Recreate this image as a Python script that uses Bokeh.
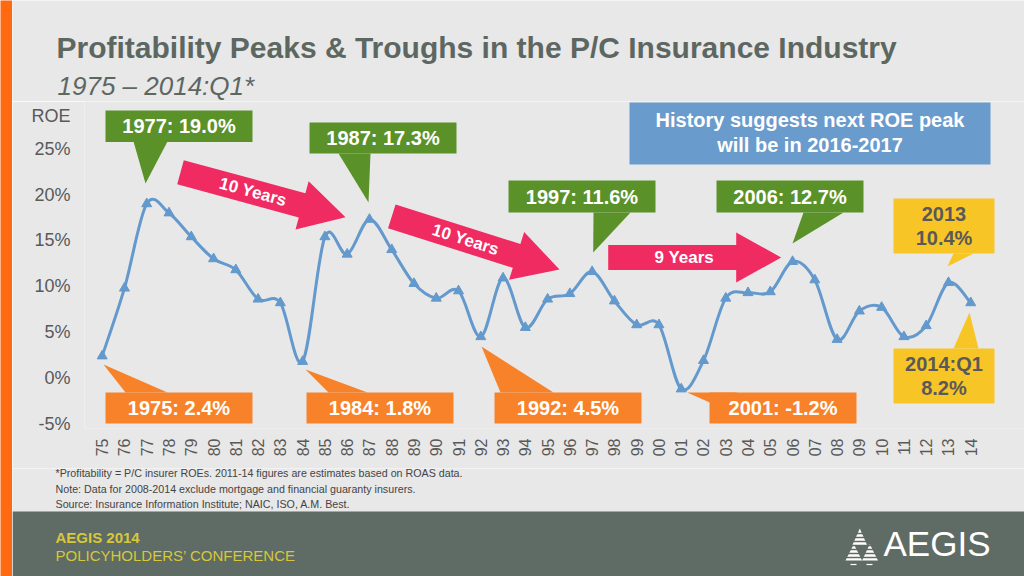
import math
from bokeh.plotting import figure
from bokeh.layouts import row, column
from bokeh.models import Range1d, FixedTicker
from bokeh.core.properties import value
from bokeh.embed import file_html
from bokeh.resources import INLINE

# ---------------- data ----------------
years = [1975, 1976, 1977, 1978, 1979, 1980, 1981, 1982, 1983, 1984,
         1985, 1986, 1987, 1988, 1989, 1990, 1991, 1992, 1993, 1994,
         1995, 1996, 1997, 1998, 1999, 2000, 2001, 2002, 2003, 2004,
         2005, 2006, 2007, 2008, 2009, 2010, 2011, 2012, 2013, 2014]
roe = [2.4, 9.8, 19.0, 18.0, 15.4, 13.0, 11.8, 8.6, 8.2, 1.8,
       15.4, 13.5, 17.3, 14.0, 10.3, 8.7, 9.5, 4.5, 10.9, 5.5,
       8.6, 9.2, 11.6, 8.4, 5.8, 5.8, -1.2, 1.9, 8.7, 9.3,
       9.4, 12.7, 10.7, 4.2, 7.3, 7.7, 4.5, 5.7, 10.4, 8.2]
year_labels = ["75", "76", "77", "78", "79", "80", "81", "82", "83", "84",
               "85", "86", "87", "88", "89", "90", "91", "92", "93", "94",
               "95", "96", "97", "98", "99", "00", "01", "02", "03", "04",
               "05", "06", "07", "08", "09", "10", "11", "12", "13", "14"]
y_ticks = [-5, 0, 5, 10, 15, 20, 25]
y_tick_labels = ["-5%", "0%", "5%", "10%", "15%", "20%", "25%"]
y_title_tick = 28.6
y_title = "ROE"

peak_labels = ["1977: 19.0%", "1987: 17.3%", "1997: 11.6%", "2006: 12.7%"]
trough_labels = ["1975: 2.4%", "1984: 1.8%", "1992: 4.5%", "2001: -1.2%"]
cycle_labels = ["10 Years", "10 Years", "9 Years"]
recent_labels = ["2013\n10.4%", "2014:Q1\n8.2%"]
note_text = "History suggests next ROE peak\nwill be in 2016-2017"

title_text = "Profitability Peaks & Troughs in the P/C Insurance Industry"
subtitle_text = "1975 \u2013 2014:Q1*"
footnotes = ["*Profitability =  P/C insurer ROEs. 2011-14 figures are estimates based on ROAS data.",
             "Note: Data for 2008-2014 exclude mortgage and financial guaranty insurers.",
             "Source: Insurance Information Institute; NAIC, ISO, A.M. Best."]

# ---------------- style ----------------
FONT = "Liberation Sans"
BG = "#E8E8E8"
ORANGE_BAR = "#FF6A10"
TITLE_C = "#5D6762"
AXIS_C = "#595959"
LINE_C = "#6399CC"
GREEN = "#5B9129"
ORANGE = "#F7822A"
PINK = "#F02B62"
YELLOW = "#F8C527"
BLUE = "#6A9BCD"
FOOT_BG = "#5F6B65"
FOOT_Y = "#D6C83A"

# reference-pixel -> data conversion for the chart panel
X0_PX, X_PER = 101.7, 22.27   # px of 1975 tick, px per year
Y0_PX, Y_PER = 377.5, 9.167   # px of 0 %, px per percentage point


def X(px):
    return 1975 + (px - X0_PX) / X_PER


def Y(py):
    return (Y0_PX - py) / Y_PER


def ident(v):
    return v


def shape(p, pts, color, fx=X, fy=Y):
    p.patch([fx(a) for a, b in pts], [fy(b) for a, b in pts],
            fill_color=color, line_color=None)


def box(p, l, t, r, b, color, fx=X, fy=Y):
    shape(p, [(l, t), (r, t), (r, b), (l, b)], color, fx, fy)


def txt(p, px, py, s, size, color, bold=True, italic=False, angle=0.0,
        align="center", font=FONT, fx=X, fy=Y, lh=1.2):
    style = "bold" if bold else "normal"
    if italic:
        style = "bold italic" if bold else "italic"
    p.text(x=[fx(px)], y=[fy(py)], text=[s], text_font=value(font),
           text_font_size=f"{size}px", text_font_style=style,
           text_color=color, text_align=align, text_baseline="middle",
           angle=angle, text_line_height=lh)


def arrow(p, tail, tip, label, sw=12.5, hw=25.0, hl=45.0):
    tx, ty = tail
    px, py = tip
    L = math.hypot(px - tx, py - ty)
    ux, uy = (px - tx) / L, (py - ty) / L
    nx, ny = -uy, ux
    bx, by = px - ux * hl, py - uy * hl
    pts = [(tx + nx * sw, ty + ny * sw), (bx + nx * sw, by + ny * sw),
           (bx + nx * hw, by + ny * hw), (px, py),
           (bx - nx * hw, by - ny * hw), (bx - nx * sw, by - ny * sw),
           (tx - nx * sw, ty - ny * sw)]
    shape(p, pts, PINK)
    mx, my = tx + (px - tx) * 0.44, ty + (py - ty) * 0.44
    ang = -math.atan2(py - ty, px - tx)
    txt(p, mx, my, label, 17, "white", angle=ang)


def plain(width, height, xr, yr, fill):
    f = figure(width=width, height=height, x_range=xr, y_range=yr,
               x_axis_type=None, y_axis_type=None, output_backend="svg",
               toolbar_location=None, min_border=0, frame_align=False,
               background_fill_color=fill, border_fill_color=fill,
               outline_line_color=None)
    f.xgrid.grid_line_color = None
    f.ygrid.grid_line_color = None
    return f


# ---------------- left orange bar ----------------
bar = plain(12, 576, Range1d(0, 1), Range1d(0, 1), ORANGE_BAR)

# ---------------- header ----------------
HEAD_B = 101
header = plain(1012, HEAD_B, Range1d(12, 1024), Range1d(HEAD_B, 0), BG)
txt(header, 56, 47, title_text, 30, TITLE_C, align="left", fx=ident, fy=ident)
txt(header, 57, 85, subtitle_text, 26, TITLE_C, bold=False, italic=True,
    align="left", fx=ident, fy=ident)

# ---------------- chart ----------------
chart = figure(width=1012, height=468 - HEAD_B,
               x_range=Range1d(X(84), X(1024)), y_range=Range1d(Y(428), Y(HEAD_B)),
               output_backend="svg", toolbar_location=None, frame_align=False,
               min_border_left=72, min_border_right=0, min_border_top=0,
               min_border_bottom=40, background_fill_color=BG,
               border_fill_color=BG, outline_line_color=None)
chart.xgrid.grid_line_color = None
chart.ygrid.grid_line_color = None
for ax in (chart.xaxis[0], chart.yaxis[0]):
    ax.axis_line_color = None
    ax.major_tick_line_color = None
    ax.minor_tick_line_color = None
    ax.major_label_text_color = AXIS_C
    ax.major_label_text_font = FONT
chart.yaxis.ticker = FixedTicker(ticks=y_ticks + [y_title_tick])
overrides = {t: s for t, s in zip(y_ticks, y_tick_labels)}
overrides[y_title_tick] = y_title
chart.yaxis.major_label_overrides = overrides
chart.yaxis.major_label_text_font_size = "18px"
chart.yaxis.major_label_standoff = 8
chart.xaxis.ticker = FixedTicker(ticks=years)
chart.xaxis.major_label_overrides = {t: s for t, s in zip(years, year_labels)}
chart.xaxis.major_label_text_font_size = "16px"
chart.xaxis.major_label_orientation = math.pi / 2
chart.xaxis.major_label_standoff = 4

# callouts (drawn beneath the line)
box(chart, 629, 102, 990, 164, BLUE)
txt(chart, 809.5, 132, note_text, 20, "white", lh=1.18)

green_boxes = [(105, 110, 252, 141.5), (309, 122, 456, 153),
               (508, 180, 655, 212), (716, 180, 863, 212)]
green_ptrs = [[(133, 141), (167, 141), (145, 183)],
              [(338, 153), (370, 153), (368, 202)],
              [(593, 212), (630, 212), (592.7, 252)],
              [(803, 212), (843, 212), (792, 243)]]
for (l, t, r, b), ptr, s in zip(green_boxes, green_ptrs, peak_labels):
    box(chart, l, t, r, b, GREEN)
    shape(chart, ptr, GREEN)
    txt(chart, (l + r) / 2, (t + b) / 2, s, 20, "white")

orange_boxes = [(105, 392, 252, 423), (306, 392, 453, 423),
                (494, 392, 641, 423), (709, 392, 856, 423)]
orange_ptrs = [[(103, 364), (167, 392), (125, 392)],
               [(305, 369), (367, 392), (328, 392)],
               [(481, 346), (553, 392), (500, 392)],
               [(686.7, 392), (737, 392), (709.3, 402)]]
for (l, t, r, b), ptr, s in zip(orange_boxes, orange_ptrs, trough_labels):
    box(chart, l, t, r, b, ORANGE)
    shape(chart, ptr, ORANGE)
    txt(chart, (l + r) / 2, (t + b) / 2, s, 20, "white")

yellow_boxes = [(893, 198, 994, 253), (893, 348, 994, 403)]
yellow_ptrs = [[(953, 253), (973, 253), (947, 266)],
               [(969, 312), (978, 348), (953, 348)]]
for (l, t, r, b), ptr, s in zip(yellow_boxes, yellow_ptrs, recent_labels):
    box(chart, l, t, r, b, YELLOW)
    shape(chart, ptr, YELLOW)
    txt(chart, (l + r) / 2, (t + b) / 2, s, 20, AXIS_C, lh=1.1)

arrow(chart, (180, 171.7), (345, 216.7), cycle_labels[0])
arrow(chart, (391.3, 215.8), (559, 269), cycle_labels[1])
arrow(chart, (607.7, 257), (780.7, 257), cycle_labels[2])

# smoothed line through the data (cubic Bezier segments, Catmull-Rom handles)
n = len(years)
x0, y0, x1, y1, cx0, cy0, cx1, cy1 = ([] for _ in range(8))
for i in range(n - 1):
    ip, inn = max(i - 1, 0), min(i + 2, n - 1)
    x0.append(years[i]); y0.append(roe[i])
    x1.append(years[i + 1]); y1.append(roe[i + 1])
    cx0.append(years[i] + (years[i + 1] - years[ip]) / 6)
    cy0.append(roe[i] + (roe[i + 1] - roe[ip]) / 6)
    cx1.append(years[i + 1] - (years[inn] - years[i]) / 6)
    cy1.append(roe[i + 1] - (roe[inn] - roe[i]) / 6)
chart.bezier(x0=x0, y0=y0, x1=x1, y1=y1, cx0=cx0, cy0=cy0, cx1=cx1, cy1=cy1,
             line_color=LINE_C, line_width=3)
chart.scatter(years, roe, marker="triangle", size=10, fill_color=LINE_C,
              line_color=LINE_C)

# ---------------- footer ----------------
footer = plain(1012, 108, Range1d(12, 1024), Range1d(576, 468), BG)
for s, yy in zip(footnotes, [472, 488, 503]):
    txt(footer, 55, yy, s, 10.7, "#444444", bold=False, align="left",
        fx=ident, fy=ident)
box(footer, 12, 511, 1024, 576, FOOT_BG, fx=ident, fy=ident)
txt(footer, 55, 537, "AEGIS 2014", 15, FOOT_Y, align="left", fx=ident, fy=ident)
txt(footer, 55, 555, "POLICYHOLDERS\u2019 CONFERENCE", 15, FOOT_Y, bold=False,
    align="left", fx=ident, fy=ident)
# logo
for tri in ([(859.3, 528), (851.5, 545.5), (867, 545.5)],
            [(853.3, 543.5), (845, 560), (861.6, 560)],
            [(869.3, 543.5), (861.6, 560), (877.5, 560)]):
    shape(footer, tri, "white", fx=ident, fy=ident)
footer.segment(x0=[843] * 7, x1=[880] * 7,
               y0=[533, 537, 541, 545, 549, 553, 557],
               y1=[533, 537, 541, 545, 549, 553, 557],
               line_color=FOOT_BG, line_width=1.3)
footer.segment(x0=[850, 866], x1=[856, 872], y0=[564, 564], y1=[564, 564],
               line_color="white", line_width=1.2)
txt(footer, 883, 543, "AEGIS", 35, "white", bold=False, align="left",
    fx=ident, fy=ident)

layout = row(bar, column(header, chart, footer, spacing=0), spacing=0)

open("out.html", "w").write(file_html(layout, INLINE))
